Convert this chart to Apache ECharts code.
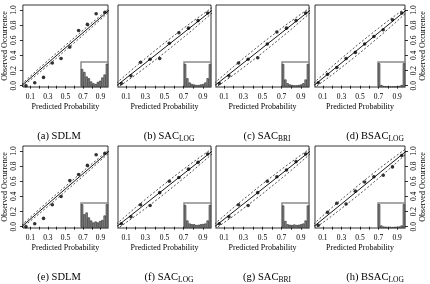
<!DOCTYPE html>
<html lang="en">
<head>
<meta charset="UTF-8">
<title>Reliability diagrams</title>
<script src="https://cdn.jsdelivr.net/npm/echarts@6/dist/echarts.min.js"></script>
<style>
    html, body { margin: 0; padding: 0; background: #fff; overflow: hidden; }
    #chart { width: 430px; height: 284px; }
</style>
</head>
<body>
<div id="chart"></div>
<script>
    // bin centres of predicted probability
    var binCenters = [0.05, 0.15, 0.25, 0.35, 0.45, 0.55, 0.65, 0.75, 0.85, 0.95];
    var xTicks = [0.1, 0.2, 0.3, 0.4, 0.5, 0.6, 0.7, 0.8, 0.9];
    var xTickLabels = [0.1, 0.3, 0.5, 0.7, 0.9];
    var yTicks = [0, 0.2, 0.4, 0.6, 0.8, 1.0];
    var diagEnds = [0, 1];

    // confidence band around the diagonal (half widths)
    var bandX = [0, 0.1, 0.2, 0.3, 0.4, 0.5, 0.6, 0.7, 0.8, 0.9, 1.0];
    var bandNarrow = [0.02, 0.025, 0.03, 0.032, 0.033, 0.033, 0.033, 0.032, 0.03, 0.025, 0.02];
    var bandWide = [0.035, 0.045, 0.055, 0.06, 0.063, 0.065, 0.063, 0.06, 0.055, 0.045, 0.035];

    // observed occurrence per bin
    var obsA = [0.0, 0.04, 0.11, 0.30, 0.36, 0.51, 0.73, 0.81, 0.95, 0.97];
    var obsB = [0.03, 0.13, 0.31, 0.35, 0.36, 0.56, 0.70, 0.76, 0.86, 0.96];
    var obsC = [0.03, 0.13, 0.30, 0.35, 0.37, 0.55, 0.71, 0.76, 0.86, 0.96];
    var obsD = [0.04, 0.15, 0.24, 0.36, 0.44, 0.55, 0.65, 0.74, 0.87, 0.96];
    var obsE = [0.0, 0.04, 0.11, 0.29, 0.40, 0.61, 0.69, 0.81, 0.95, 0.97];
    var obsF = [0.04, 0.13, 0.29, 0.28, 0.45, 0.60, 0.65, 0.76, 0.85, 0.96];
    var obsG = [0.04, 0.13, 0.29, 0.28, 0.45, 0.60, 0.66, 0.75, 0.86, 0.96];
    var obsH = [0.02, 0.19, 0.31, 0.30, 0.47, 0.59, 0.66, 0.68, 0.79, 0.94];

    // histograms of predicted probability (relative heights)
    var histA = [0.72, 0.6, 0.42, 0.35, 0.22, 0.15, 0.12, 0.2, 0.25, 0.38, 0.5, 0.93];
    var histB = [0.92, 0.35, 0.18, 0.12, 0.1, 0.08, 0.08, 0.1, 0.12, 0.18, 0.35, 0.92];
    var histC = [0.92, 0.3, 0.15, 0.1, 0.08, 0.07, 0.07, 0.08, 0.1, 0.15, 0.3, 0.92];
    var histD = [0.95, 0.08, 0.04, 0.03, 0.02, 0.02, 0.02, 0.02, 0.03, 0.04, 0.08, 0.95];
    var histE = [0.95, 0.55, 0.62, 0.42, 0.3, 0.22, 0.26, 0.22, 0.28, 0.32, 0.5, 0.95];
    var histF = [0.92, 0.3, 0.18, 0.15, 0.15, 0.12, 0.13, 0.15, 0.16, 0.18, 0.3, 0.92];
    var histG = [0.9, 0.28, 0.15, 0.13, 0.12, 0.14, 0.12, 0.13, 0.15, 0.18, 0.3, 0.9];
    var histH = [0.95, 0.1, 0.06, 0.05, 0.04, 0.05, 0.04, 0.05, 0.05, 0.06, 0.1, 0.95];

    var captions = ['(a) SDLM', '(b) SAC', '(c) SAC', '(d) BSAC', '(e) SDLM', '(f) SAC', '(g) SAC', '(h) BSAC'];
    var captionSubs = ['', 'LOG', 'BRI', 'LOG', '', 'LOG', 'BRI', 'LOG'];

    var panels = [
        { obs: obsA, hist: histA, band: bandNarrow, side: 'left' },
        { obs: obsB, hist: histB, band: bandWide, side: null },
        { obs: obsC, hist: histC, band: bandWide, side: null },
        { obs: obsD, hist: histD, band: bandWide, side: 'right' },
        { obs: obsE, hist: histE, band: bandNarrow, side: 'left' },
        { obs: obsF, hist: histF, band: bandWide, side: null },
        { obs: obsG, hist: histG, band: bandWide, side: null },
        { obs: obsH, hist: histH, band: bandWide, side: 'right' }
    ];

    // layout
    var FONT = '"Liberation Serif", "DejaVu Serif", serif';
    var colLeft = [20, 118, 216, 315];
    var colWidth = [88, 93, 93, 90];
    var capCenter = [54, 164, 262, 370];
    var rowTop = [5, 146];
    var capTop = [124, 265];
    var boxH = 82;
    var insetW = 27, insetH = 25;
    var xMin = 0.015, xMax = 0.985, yMin = -0.017, yMax = 1.066;

    var grids = [], xAxes = [], yAxes = [], series = [], titles = [];

    panels.forEach(function (p, i) {
        var col = i % 4, row = Math.floor(i / 4);
        var left = colLeft[col], top = rowTop[row], w = colWidth[col];
        var gi = i * 2;

        grids.push({
            left: left, top: top, width: w, height: boxH,
            show: true, borderColor: '#000', borderWidth: 0.8, backgroundColor: 'transparent'
        });
        grids.push({
            left: left + w - insetW, top: top + boxH - insetH, width: insetW, height: insetH,
            show: true, borderColor: '#8c8c8c', borderWidth: 1.5, backgroundColor: '#fff'
        });

        xAxes.push({
            gridIndex: gi, type: 'value', min: xMin, max: xMax,
            axisLine: { show: false }, splitLine: { show: false },
            axisTick: { show: true, customValues: xTicks, length: 3, lineStyle: { color: '#000', width: 0.8 } },
            axisLabel: {
                customValues: xTickLabels, margin: 6, fontSize: 7.5, color: '#000', fontFamily: FONT,
                formatter: function (v) { return v.toFixed(1); }
            },
            name: 'Predicted Probability', nameLocation: 'middle', nameGap: 16,
            nameTextStyle: { fontSize: 8, color: '#000', fontFamily: FONT }
        });
        xAxes.push({
            gridIndex: gi + 1, type: 'category', data: p.hist.map(function (_, k) { return k; }),
            show: false
        });

        var yMain = {
            gridIndex: gi, type: 'value', min: yMin, max: yMax,
            axisLine: { show: false }, splitLine: { show: false },
            axisTick: { show: false }, axisLabel: { show: false }
        };
        if (p.side) {
            yMain.position = p.side;
            yMain.axisTick = { show: true, customValues: yTicks, length: 3, lineStyle: { color: '#000', width: 0.8 } };
            yMain.axisLabel = {
                show: true, customValues: yTicks, rotate: 90, margin: 5, fontSize: 7.5, color: '#000', fontFamily: FONT,
                formatter: function (v) { return v.toFixed(1); }
            };
            yMain.name = 'Observed Occurrence';
            yMain.nameLocation = 'middle';
            yMain.nameRotate = 90;
            yMain.nameGap = 13;
            yMain.nameTextStyle = { fontSize: 8, color: '#000', fontFamily: FONT };
        }
        yAxes.push(yMain);
        yAxes.push({ gridIndex: gi + 1, type: 'value', min: 0, max: 1, show: false });

        series.push({
            type: 'line', xAxisIndex: gi, yAxisIndex: gi, symbol: 'none', silent: true,
            data: diagEnds.map(function (v) { return [v, v]; }),
            lineStyle: { color: '#000', width: 0.9 }
        });
        series.push({
            type: 'line', xAxisIndex: gi, yAxisIndex: gi, symbol: 'none', silent: true,
            data: bandX.map(function (x, k) { return [x, x + p.band[k]]; }),
            lineStyle: { color: '#222', width: 0.8, type: [2, 2] }
        });
        series.push({
            type: 'line', xAxisIndex: gi, yAxisIndex: gi, symbol: 'none', silent: true,
            data: bandX.map(function (x, k) { return [x, x - p.band[k]]; }),
            lineStyle: { color: '#222', width: 0.8, type: [2, 2] }
        });
        series.push({
            type: 'scatter', xAxisIndex: gi, yAxisIndex: gi, symbolSize: 3.6, silent: true,
            data: binCenters.map(function (x, k) { return [x, p.obs[k]]; }),
            itemStyle: { color: '#000' }
        });
        series.push({
            type: 'bar', xAxisIndex: gi + 1, yAxisIndex: gi + 1, barCategoryGap: '0%', silent: true,
            data: p.hist,
            itemStyle: { color: '#8e8e8e', borderColor: '#222', borderWidth: 0.6 }
        });

        var txt = '{n|' + captions[i] + '}' + (captionSubs[i] ? '{s|' + captionSubs[i] + '}' : '');
        titles.push({
            text: txt, left: capCenter[col], top: capTop[row], textAlign: 'center',
            textStyle: {
                fontWeight: 'normal',
                rich: {
                    n: { fontSize: 10.5, fontWeight: 'normal', color: '#000', fontFamily: FONT, lineHeight: 14 },
                    s: { fontSize: 7.5, fontWeight: 'normal', color: '#000', fontFamily: FONT, lineHeight: 7, verticalAlign: 'bottom' }
                }
            }
        });
    });

    var chart = echarts.init(document.getElementById('chart'));
    chart.setOption({
        animation: false,
        backgroundColor: '#fff',
        title: titles,
        grid: grids,
        xAxis: xAxes,
        yAxis: yAxes,
        series: series
    });
</script>
</body>
</html>
